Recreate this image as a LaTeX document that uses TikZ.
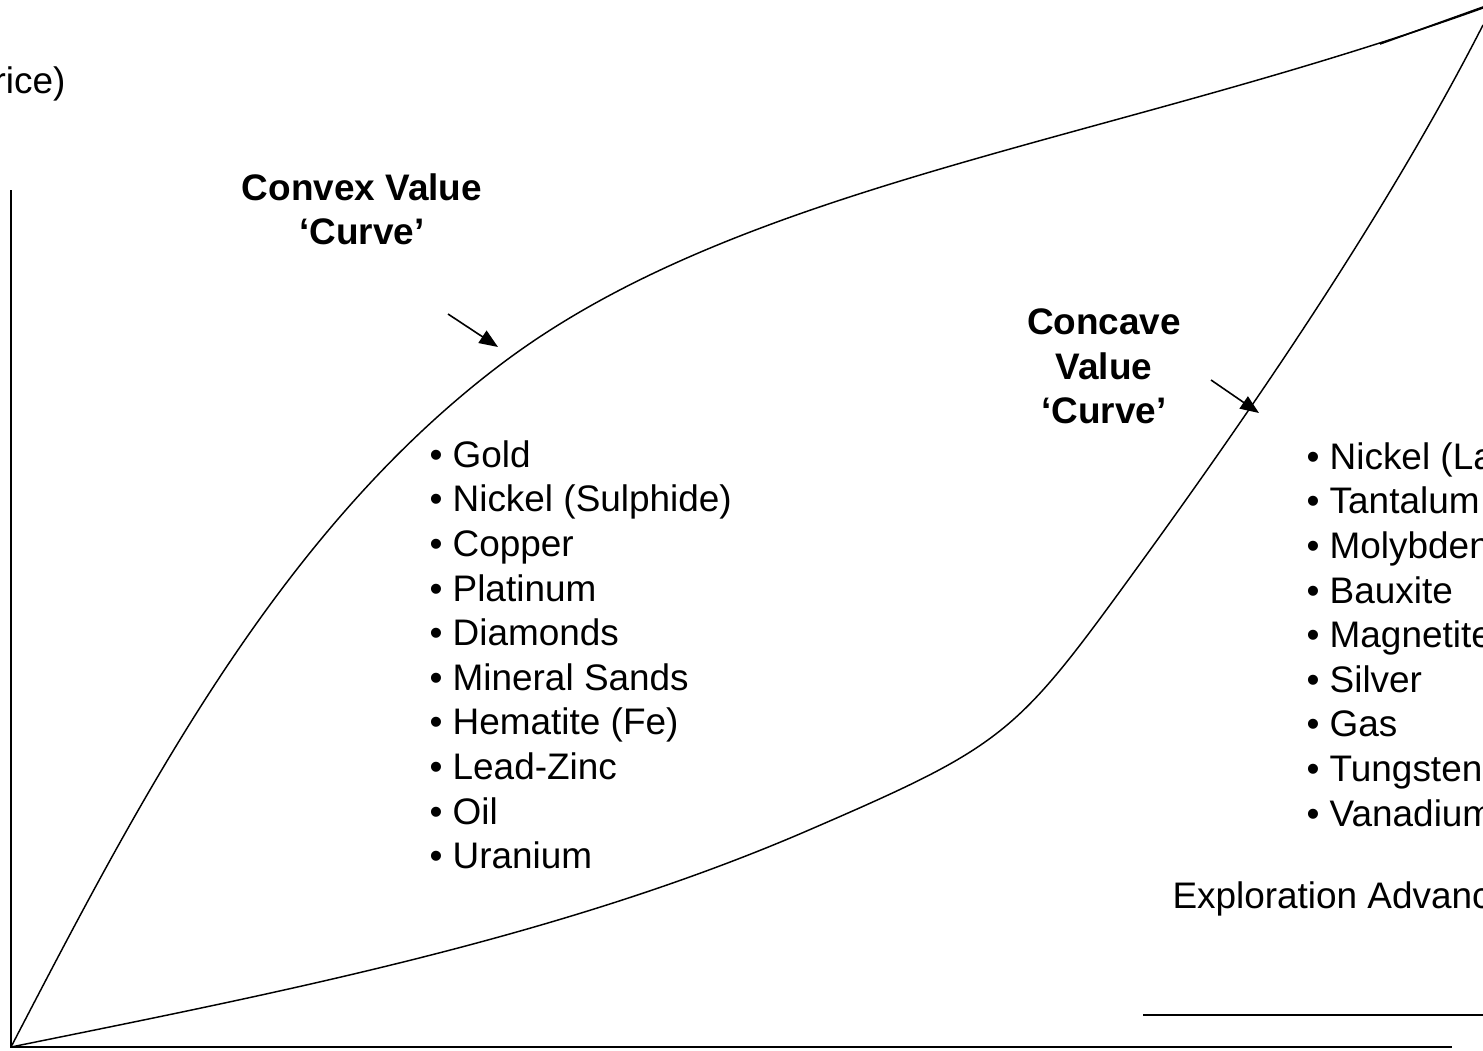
\documentclass[tikz,border=0pt]{standalone}
\usepackage{fontspec}
\setmainfont{Liberation Sans}
\usetikzlibrary{arrows.meta}

\tikzset{every picture/.style={line width=0.75pt}}
\tikzset{
  value curve/.style={line width=1.1pt},
  axis line/.style={line width=1.4pt},
  curve label/.style={font=\fontsize{27.7}{33.4}\selectfont\bfseries, align=center, inner sep=0pt},
  mineral list/.style={font=\fontsize{27.7}{33.45}\selectfont, align=left, anchor=north west, inner sep=0pt},
  axis text/.style={font=\fontsize{27.7}{33.45}\selectfont, inner sep=0pt},
  pointer/.style={line width=1.2pt, -{Triangle[length=14pt,width=11pt]}},
}

\begin{document}
\begin{tikzpicture}[x=0.75pt,y=0.75pt,yscale=-1,xscale=1]
\useasboundingbox (0,0) rectangle (1483,1050);
\clip (0,0) rectangle (1483,1050);

%Axes
\coordinate (origin) at (11,1047);
\coordinate (ytop) at (11,190);
\coordinate (xend) at (1452,1047);
\coordinate (peak) at (1483,8);
\draw [axis line] (ytop) -- (origin) -- (xend);
%Straight Lines
\coordinate (rulea) at (1143,1015);
\coordinate (ruleb) at (1483,1015);
\draw [line width=1.2pt] (rulea) -- (ruleb);
\coordinate (tipa) at (1380,44);
\coordinate (tipb) at (1483,7);
\draw [line width=1.2pt] (tipa) -- (tipb);

%Curve Lines (convex)
\draw [value curve] (origin) .. controls (140.5,798) and (277,534) .. (500,365)
  .. controls (739,183.5) and (1107,143) .. (peak);
%Curve Lines (concave)
\draw [value curve] (origin) .. controls (277,993) and (554,939) .. (802,833)
  .. controls (1013,742) and (1015,736) .. (1150,550)
  .. controls (1267,388) and (1392,203) .. (1483,25);

% Text Node
\node [curve label] (convexlabel) at (362,209.5) {Convex Value\\‘Curve’};
% Text Node
\node [curve label] (concavelabel) at (1104,366.5) {Concave\\Value\\‘Curve’};

%Arrows
\coordinate (cvxtail) at (448,314);
\coordinate (cvxtip) at (498,347);
\draw [pointer] (cvxtail) -- (cvxtip);
\coordinate (ccvtail) at (1211,380);
\coordinate (ccvtip) at (1259,413);
\draw [pointer] (ccvtail) -- (ccvtip);

% Text Node
\node [mineral list] (convexlist) at (429,440) {• Gold\\• Nickel (Sulphide)\\• Copper\\• Platinum\\• Diamonds\\• Mineral Sands\\• Hematite (Fe)\\• Lead-Zinc\\• Oil\\• Uranium};
% Text Node
\node [mineral list] (concavelist) at (1306,442) {• Nickel (La\\• Tantalum\\• Molybden\\• Bauxite\\• Magnetite\\• Silver\\• Gas\\• Tungsten\\• Vanadium};
% Text Node
\node [axis text, anchor=base west] (xtitle) at (1172,908) {Exploration Advanc};
% Text Node
\node [axis text, anchor=base east] (ytitle) at (66,93) {rice)};
\end{tikzpicture}
\end{document}
